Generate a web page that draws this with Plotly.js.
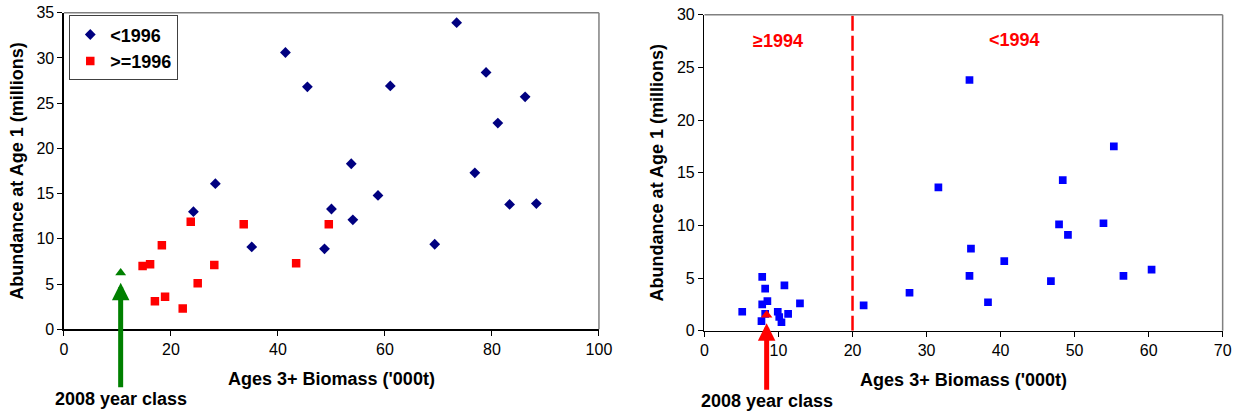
<!DOCTYPE html>
<html>
<head>
<meta charset="utf-8">
<script src="https://cdn.plot.ly/plotly-3.0.1.min.js"></script>
<style>html,body{margin:0;padding:0;background:#fff;}#chart{width:1237px;height:413px;}</style>
</head>
<body>
<div id="chart"></div>
<script>
// Left panel: Ages 3+ biomass ('000t) vs abundance at age 1 (millions)
const leftPreX = [41.4, 45.5, 28.3, 24.2, 73.4, 78.9, 86.2, 81.1, 61.0, 53.7, 76.8, 58.7, 50.0, 83.3, 88.3, 54.0, 48.7, 69.3, 35.1];
const leftPreY = [30.6, 26.8, 16.1, 13.0, 33.9, 28.4, 25.7, 22.8, 26.9, 18.3, 17.3, 14.8, 13.3, 13.8, 13.9, 12.1, 8.9, 9.4, 9.1];
const leftPostX = [14.7, 16.1, 18.3, 17.0, 18.9, 22.2, 23.7, 25.0, 28.1, 33.6, 43.4, 49.5];
const leftPostY = [7.0, 7.2, 9.3, 3.1, 3.6, 2.3, 11.9, 5.1, 7.1, 11.6, 7.3, 11.6];
const left2008X = [10.6];
const left2008Y = [6.25];
const leftArrowTip = [10.6, 5.15];

// Right panel
const rightX = [5.1, 7.8, 8.2, 7.8, 8.5, 7.7, 8.2, 9.9, 10.1, 10.4, 11.3, 10.8, 12.9, 21.5, 27.7, 35.8, 55.3, 48.4, 31.6, 47.9, 53.9, 49.1, 36.0, 40.5, 35.8, 46.8, 56.6, 60.4, 38.3];
const rightY = [1.8, 5.1, 4.0, 2.5, 2.8, 0.9, 1.6, 1.8, 1.3, 0.8, 1.6, 4.3, 2.6, 2.4, 3.6, 23.8, 17.5, 14.3, 13.6, 10.1, 10.2, 9.1, 7.8, 6.6, 5.2, 4.7, 5.2, 5.8, 2.7];
const right2008X = [8.4];
const right2008Y = [1.5];
const rightArrowTip = [8.4, 0.7];
const splitX = [20, 20];
const splitY = [0, 30];
const regimeLabels = ['≥1994', '<1994'];
const regimeLabelX = [9.9, 41.9];
const regimeLabelY = [27.5, 27.6];

const legendNames = ['<1996', '>=1996'];
const xTitle = "Ages 3+ Biomass ('000t)";
const yTitle = 'Abundance at Age 1 (millions)';
const arrowText = '2008 year class';

const FONT = 'Liberation Sans, Arial, sans-serif';

const traces = [
  {x: leftPreX, y: leftPreY, type: 'scatter', mode: 'markers', name: legendNames[0], xaxis: 'x', yaxis: 'y',
   marker: {symbol: 'diamond', size: 8.3, color: '#000080'}},
  {x: leftPostX, y: leftPostY, type: 'scatter', mode: 'markers', name: legendNames[1], xaxis: 'x', yaxis: 'y',
   marker: {symbol: 'square', size: 8.5, color: '#FF0000'}},
  {x: left2008X, y: left2008Y, type: 'scatter', mode: 'markers', showlegend: false, xaxis: 'x', yaxis: 'y',
   marker: {symbol: 'triangle-up', size: 9.5, color: '#008000'}},
  {x: splitX, y: splitY, type: 'scatter', mode: 'lines', showlegend: false, xaxis: 'x2', yaxis: 'y2',
   line: {color: '#FF0000', width: 2.5, dash: '15px,5px'}},
  {x: rightX, y: rightY, type: 'scatter', mode: 'markers', showlegend: false, xaxis: 'x2', yaxis: 'y2',
   marker: {symbol: 'square', size: 7.7, color: '#0000FF'}},
  {x: right2008X, y: right2008Y, type: 'scatter', mode: 'markers', showlegend: false, xaxis: 'x2', yaxis: 'y2',
   marker: {symbol: 'triangle-up', size: 10, color: '#FF0000'}}
];

const axisCommon = {
  showgrid: false, zeroline: false, showline: true, linecolor: '#000', linewidth: 1.5,
  ticks: 'outside', ticklen: 5, tickwidth: 1, tickcolor: '#000',
  tickfont: {family: FONT, size: 16, color: '#000'}, automargin: false
};
const titleFont = {family: FONT, size: 18, color: '#000', weight: 'bold'};

const layout = {
  width: 1237, height: 413,
  margin: {l: 0, r: 0, t: 0, b: 0},
  paper_bgcolor: '#fff', plot_bgcolor: '#fff',
  font: {family: FONT, color: '#000'},
  showlegend: true,
  legend: {x: 0.056, y: 0.963, xanchor: 'left', yanchor: 'top', bgcolor: '#fff', bordercolor: '#404040', borderwidth: 1,
           font: {family: FONT, size: 18, color: '#000', weight: 'bold'}, itemwidth: 30, tracegroupgap: 0},
  xaxis: Object.assign({}, axisCommon, {domain: [0.0517, 0.4842], range: [0, 100], dtick: 20, anchor: 'y',
          title: {text: xTitle, font: titleFont, standoff: 15}}),
  yaxis: Object.assign({}, axisCommon, {domain: [0.2027, 0.9693], range: [0, 35], dtick: 5, anchor: 'x',
          title: {text: yTitle, font: titleFont, standoff: 8}}),
  xaxis2: Object.assign({}, axisCommon, {domain: [0.5695, 0.9884], range: [0, 70], dtick: 10, anchor: 'y2',
          title: {text: xTitle, font: titleFont, standoff: 15}}),
  yaxis2: Object.assign({}, axisCommon, {domain: [0.1993, 0.9644], range: [0, 30], dtick: 5, anchor: 'x2',
          title: {text: yTitle, font: titleFont, standoff: 8}}),
  shapes: [
    {type: 'line', xref: 'x domain', yref: 'y domain', x0: 0, x1: 1, y0: 1, y1: 1, line: {color: '#808080', width: 1.5}},
    {type: 'line', xref: 'x domain', yref: 'y domain', x0: 1, x1: 1, y0: 0, y1: 1, line: {color: '#808080', width: 1.5}},
    {type: 'line', xref: 'x2 domain', yref: 'y2 domain', x0: 0, x1: 1, y0: 1, y1: 1, line: {color: '#808080', width: 1.5}},
    {type: 'line', xref: 'x2 domain', yref: 'y2 domain', x0: 1, x1: 1, y0: 0, y1: 1, line: {color: '#808080', width: 1.5}}
  ],
  annotations: [
    {xref: 'x', yref: 'y', x: leftArrowTip[0], y: leftArrowTip[1], text: arrowText, showarrow: true,
     ax: 0, ay: 116, arrowhead: 2, arrowsize: 0.7, arrowwidth: 5, arrowcolor: '#008000',
     font: {family: FONT, size: 18, color: '#000', weight: 'bold'}},
    {xref: 'x2', yref: 'y2', x: rightArrowTip[0], y: rightArrowTip[1], text: arrowText, showarrow: true,
     ax: 0, ay: 78, arrowhead: 2, arrowsize: 0.7, arrowwidth: 5, arrowcolor: '#FF0000',
     font: {family: FONT, size: 18, color: '#000', weight: 'bold'}},
    {xref: 'x2', yref: 'y2', x: regimeLabelX[0], y: regimeLabelY[0], text: regimeLabels[0], showarrow: false,
     font: {family: FONT, size: 18, color: '#FF0000', weight: 'bold'}},
    {xref: 'x2', yref: 'y2', x: regimeLabelX[1], y: regimeLabelY[1], text: regimeLabels[1], showarrow: false,
     font: {family: FONT, size: 18, color: '#FF0000', weight: 'bold'}}
  ]
};

Plotly.newPlot('chart', traces, layout, {displayModeBar: false, staticPlot: true});
</script>
</body>
</html>
